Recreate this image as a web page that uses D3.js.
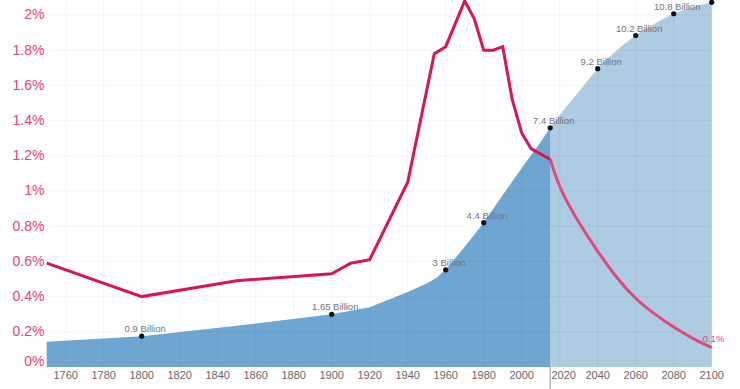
<!DOCTYPE html>
<html>
<head>
<meta charset="utf-8">
<script src="https://cdn.jsdelivr.net/npm/d3@7"></script>
<style>
  html, body { margin: 0; padding: 0; background: #fff; }
  svg { display: block; font-family: "Liberation Sans", Arial, Helvetica, sans-serif; }
</style>
</head>
<body>
<svg id="chart" width="740" height="389"></svg>
<script>
// ---- Data ----
const popYears = [1750, 1800, 1850, 1900, 1920, 1940, 1950, 1955, 1960, 1970, 1980, 1990, 2000, 2010, 2015];
const popValues = [0.78, 0.95, 1.27, 1.62, 1.84, 2.31, 2.57, 2.74, 2.99, 3.70, 4.44, 5.29, 6.12, 6.92, 7.36];
const projYears = [2015, 2020, 2030, 2040, 2050, 2060, 2070, 2080, 2090, 2100];
const projValues = [7.36, 7.75, 8.47, 9.18, 9.74, 10.2, 10.56, 10.87, 11.07, 11.22];

const rateYears = [1750, 1800, 1850, 1900, 1910, 1920, 1940, 1954, 1960, 1970, 1975, 1980, 1985, 1990, 1995, 2000, 2005, 2010, 2015];
const rateValues = [0.59, 0.40, 0.49, 0.53, 0.59, 0.61, 1.05, 1.78, 1.82, 2.08, 1.98, 1.80, 1.80, 1.82, 1.52, 1.33, 1.24, 1.21, 1.18];
const rateProjYears = [2015, 2020, 2030, 2040, 2050, 2060, 2070, 2080, 2090, 2100];
const rateProjValues = [1.18, 1.01, 0.82, 0.655, 0.505, 0.385, 0.30, 0.225, 0.16, 0.11];

const markerYears = [1800, 1900, 1960, 1980, 2015, 2040, 2060, 2080, 2100];
const markerValues = [0.95, 1.62, 2.99, 4.44, 7.36, 9.18, 10.2, 10.87, 11.22];
const markerLabels = ["0.9 Billion", "1.65 Billion", "3 Billion", "4.4 Billion", "7.4 Billion", "9.2 Billion", "10.2 Billion", "10.8 Billion", ""];

const xTicks = d3.range(1760, 2101, 20);
const yTicks = [0, 0.2, 0.4, 0.6, 0.8, 1, 1.2, 1.4, 1.6, 1.8, 2];
const yTickLabels = ["0%", "0.2%", "0.4%", "0.6%", "0.8%", "1%", "1.2%", "1.4%", "1.6%", "1.8%", "2%"];
const endRateLabel = "0.1%";
const splitYear = 2015;

// ---- Scales ----
const svg = d3.select("#chart");
const x = d3.scaleLinear().domain([1750, 2100]).range([46.7, 711.7]);
const yRate = d3.scaleLinear().domain([0, 2]).range([367, 15]);
const yPop = d3.scaleLinear().domain([0, 11.2]).range([367, 3]);

const pastPop = popYears.map((d, i) => [d, popValues[i]]);
const futPop = projYears.map((d, i) => [d, projValues[i]]);
const pastRate = rateYears.map((d, i) => [d, rateValues[i]]);
const futRate = rateProjYears.map((d, i) => [d, rateProjValues[i]]);

// ---- Areas ----
const areaPast = d3.area().x(d => x(d[0])).y0(yPop(0)).y1(d => yPop(d[1]));
const areaFut = d3.area().curve(d3.curveMonotoneX).x(d => x(d[0])).y0(yPop(0)).y1(d => yPop(d[1]));

svg.append("path").attr("d", areaFut(futPop)).attr("fill", "#adcbe1");
svg.append("path").attr("d", areaPast(pastPop)).attr("fill", "#6fa6d1");

// ---- Grid (faint, over areas) ----
const grid = svg.append("g");
grid.selectAll("line.v").data(xTicks).join("line")
  .attr("x1", d => x(d)).attr("x2", d => x(d))
  .attr("y1", 0).attr("y2", yRate(0))
  .attr("stroke", "rgba(0,0,0,0.045)").attr("stroke-width", 1);
grid.selectAll("line.h").data(yTicks.slice(1)).join("line")
  .attr("x1", x(1750)).attr("x2", x(2100))
  .attr("y1", d => yRate(d)).attr("y2", d => yRate(d))
  .attr("stroke", "rgba(0,0,0,0.045)").attr("stroke-width", 1);

// ---- Divider ----
svg.append("line")
  .attr("x1", x(splitYear)).attr("x2", x(splitYear))
  .attr("y1", yRate(0)).attr("y2", 389)
  .attr("stroke", "#b5b5b5").attr("stroke-width", 1.5);

// ---- Rate lines ----
const linePast = d3.line().x(d => x(d[0])).y(d => yRate(d[1]));
const lineFut = d3.line().curve(d3.curveBasis).x(d => x(d[0])).y(d => yRate(d[1]));
svg.append("path").attr("d", lineFut(futRate)).attr("fill", "none")
  .attr("stroke", "#e2497b").attr("stroke-width", 3).attr("stroke-linejoin", "round");
svg.append("path").attr("d", linePast(pastRate)).attr("fill", "none")
  .attr("stroke", "#d8164f").attr("stroke-width", 3).attr("stroke-linejoin", "miter");

// ---- Markers ----
const markers = markerYears.map((d, i) => ({ yr: d, v: markerValues[i], label: markerLabels[i] }));
svg.selectAll("circle.m").data(markers).join("circle")
  .attr("cx", d => x(d.yr)).attr("cy", d => yPop(d.v)).attr("r", 2.6)
  .attr("fill", "#111");
svg.selectAll("text.m").data(markers.filter(d => d.label)).join("text")
  .attr("x", d => x(d.yr) + 3.5).attr("y", d => yPop(d.v) - 4)
  .attr("text-anchor", "middle")
  .attr("font-size", 9.5).attr("fill", "#6d7480")
  .text(d => d.label);

svg.append("text")
  .attr("x", x(2100) - 9).attr("y", yRate(rateProjValues[rateProjValues.length - 1]) - 6)
  .attr("font-size", 9.5).attr("fill", "#e2497b")
  .text(endRateLabel);

// ---- Axes labels ----
svg.selectAll("text.yl").data(yTicks).join("text")
  .attr("x", 44.5).attr("y", d => yRate(d))
  .attr("dy", (d, i) => i === 0 ? "-0.05em" : "0.32em")
  .attr("text-anchor", "end")
  .attr("font-size", 14).attr("fill", "#e5456f")
  .text((d, i) => yTickLabels[i]);

svg.selectAll("text.xl").data(xTicks).join("text")
  .attr("x", d => x(d) + (d === 2020 ? 4 : 0)).attr("y", 379)
  .attr("text-anchor", "middle")
  .attr("font-size", 11).attr("fill", "#666")
  .text(d => d);
</script>
</body>
</html>
